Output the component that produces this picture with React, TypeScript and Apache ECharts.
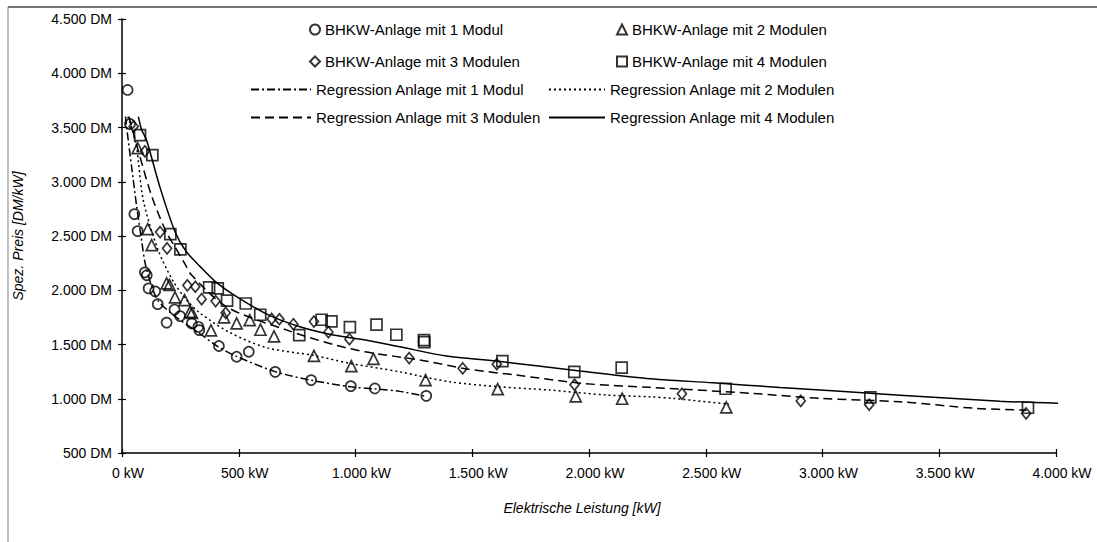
import React, { useEffect, useRef } from "react";
import * as echarts from "echarts";

// ---- data (kW, DM/kW) ----
const mod1: [number, number][] = [
  [24, 3846], [34, 3532], [53, 2702], [67, 2545], [98, 2165], [106, 2138], [114, 2017], [142, 1990],
  [153, 1872], [191, 1702], [225, 1822], [249, 1762], [299, 1694], [327, 1663], [331, 1633],
  [415, 1486], [491, 1387], [543, 1433], [656, 1248], [810, 1172], [980, 1116], [1083, 1095], [1303, 1027],
];
const mod2: [number, number][] = [
  [67, 3310], [110, 2564], [127, 2416], [191, 2063], [203, 2050], [227, 1934], [268, 1909],
  [291, 1801], [300, 1792], [381, 1630], [437, 1750], [491, 1694], [547, 1725], [593, 1636],
  [651, 1574], [822, 1395], [982, 1301], [1077, 1367], [1300, 1172], [1609, 1088], [1943, 1021],
  [2142, 1000], [2588, 920],
];
const mod3: [number, number][] = [
  [50, 3510], [98, 3280], [163, 2536], [193, 2386], [280, 2045], [314, 2032], [341, 1918],
  [401, 1900], [444, 1792], [641, 1736], [674, 1733], [734, 1687], [822, 1711], [884, 1614],
  [974, 1549], [1230, 1375], [1459, 1280], [1605, 1318], [1938, 1129], [2398, 1046], [2907, 980],
  [3200, 945], [3872, 865],
];
const mod4: [number, number][] = [
  [77, 3430], [130, 3246], [207, 2518], [250, 2377], [373, 2026], [410, 2017], [450, 1905],
  [530, 1878], [592, 1774], [759, 1587], [855, 1728], [897, 1713], [976, 1660], [1090, 1684],
  [1175, 1590], [1293, 1540], [1295, 1522], [1629, 1347], [1937, 1248], [2140, 1287], [2585, 1092],
  [3205, 1012], [3880, 917],
];

const reg1: [number, number][] = [
  [15, 3600], [20, 3500], [41, 3140], [63, 2770], [84, 2460], [100, 2240], [130, 2020], [156, 1900],
  [227, 1760], [327, 1610], [412, 1479], [491, 1390], [656, 1250], [808, 1172], [980, 1110],
  [1082, 1091], [1190, 1068], [1305, 1020],
];
const reg2: [number, number][] = [
  [25, 3600], [60, 3350], [91, 2832], [155, 2370], [220, 2080], [277, 1910], [334, 1790],
  [462, 1610], [620, 1470], [819, 1400], [976, 1326], [1105, 1280], [1190, 1248], [1405, 1156],
  [1619, 1110], [1833, 1080], [2076, 1034], [2261, 1018], [2361, 1003], [2600, 950],
];
const reg3: [number, number][] = [
  [30, 3600], [77, 3230], [130, 2850], [191, 2530], [227, 2400], [270, 2240], [298, 2140],
  [448, 1847], [705, 1633], [905, 1500], [1048, 1430], [1276, 1357], [1476, 1275], [1690, 1218],
  [1975, 1141], [2261, 1105], [2704, 1049], [2989, 1003], [3332, 972], [3660, 911], [3874, 895],
];
const reg4: [number, number][] = [
  [70, 3600], [84, 3480], [105, 3385], [162, 2954], [227, 2540], [274, 2360], [334, 2220],
  [400, 2080], [477, 1960], [620, 1780], [762, 1663], [905, 1587], [1048, 1540], [1190, 1479],
  [1390, 1393], [1605, 1347], [1961, 1255], [2247, 1187], [2532, 1147], [2818, 1104], [3332, 1033],
  [3760, 978], [4025, 957],
];

const seriesNames = [
  "BHKW-Anlage mit 1 Modul",
  "BHKW-Anlage mit 2 Modulen",
  "BHKW-Anlage mit 3 Modulen",
  "BHKW-Anlage mit 4 Modulen",
  "Regression Anlage mit 1 Modul",
  "Regression Anlage mit 2 Modulen",
  "Regression Anlage mit 3 Modulen",
  "Regression Anlage mit 4 Modulen",
];

const xTitle = "Elektrische Leistung [kW]";
const yTitle = "Spez. Preis [DM/kW]";

const FONT = "'Liberation Sans', Arial, sans-serif";

function de(v: number): string {
  if (v >= 1000) {
    const t = Math.floor(v / 1000);
    const r = String(v % 1000).padStart(3, "0");
    return `${t}.${r}`;
  }
  return String(v);
}

export default function App() {
  const ref = useRef<HTMLDivElement>(null);
  useEffect(() => {
    if (!ref.current) return;
    const chart = echarts.init(ref.current, undefined, { renderer: "svg" });

    const markerStyle = {
      color: "rgba(255,255,255,0)",
      borderColor: "#000",
      borderWidth: 1.7,
    };
    const scatter = (name: string, data: [number, number][], symbol: string, size: number | number[]) => ({
      type: "scatter",
      name,
      data,
      symbol,
      symbolSize: size,
      itemStyle: markerStyle,
      z: 5,
    });
    const line = (name: string, data: [number, number][], type: any, width = 1.5) => ({
      type: "line",
      name,
      data,
      smooth: 0.3,
      showSymbol: false,
      symbol: "none",
      clip: false,
      lineStyle: { color: "#000", width, type },
      itemStyle: { color: "#000" },
      z: 3,
    });

    const legendText = { color: "#000", fontSize: 15, fontFamily: FONT };
    const mkLegend = (name: string, left: number, top: number, w: number, h: number, isLine: boolean) => ({
      data: [name],
      left,
      top,
      itemWidth: w,
      itemHeight: h,
      selectedMode: false,
      textStyle: legendText,
      padding: 0,
      ...(isLine ? { itemStyle: { opacity: 0 } } : {}),
    });

    const axisLineStyle = { color: "#000", width: 1.5 };

    const option: any = {
      animation: false,
      backgroundColor: "#ffffff",
      grid: { left: 122, top: 19, right: 41, bottom: 89, containLabel: false },
      graphic: [
        { type: "line", shape: { x1: 8, y1: 7, x2: 1097, y2: 7 }, style: { stroke: "#444", lineWidth: 1.5 } },
        { type: "line", shape: { x1: 8, y1: 7, x2: 8, y2: 542 }, style: { stroke: "#999", lineWidth: 1.2 } },
      ],
      legend: [
        mkLegend(seriesNames[0], 309, 22, 10, 10, false),
        mkLegend(seriesNames[1], 616, 22, 10, 10, false),
        mkLegend(seriesNames[2], 309, 54, 10, 10, false),
        mkLegend(seriesNames[3], 616, 54, 10, 10, false),
        mkLegend(seriesNames[4], 250, 82, 60, 12, true),
        mkLegend(seriesNames[5], 548, 82, 56, 12, true),
        mkLegend(seriesNames[6], 250, 110, 60, 12, true),
        mkLegend(seriesNames[7], 548, 110, 56, 12, true),
      ],
      xAxis: [
        {
          type: "value",
          min: 0,
          max: 4000,
          interval: 500,
          name: xTitle,
          nameLocation: "middle",
          nameGap: 48,
          nameTextStyle: { fontStyle: "italic", fontSize: 14, color: "#000", fontFamily: FONT, padding: [0, 14, 0, 0] },
          axisLine: { show: true, lineStyle: axisLineStyle },
          axisTick: { show: true, length: 4, lineStyle: { color: "#000", width: 1.2 } },
          axisLabel: {
            formatter: (v: number) => `${de(v)} kW`,
            color: "#000",
            fontSize: 14,
            fontFamily: FONT,
            margin: 13,
            padding: [0, 0, 0, 12],
          },
          splitLine: { show: false },
        },
        {
          type: "value",
          min: 0,
          max: 4000,
          interval: 500,
          position: "bottom",
          axisLine: { show: false },
          axisTick: { show: true, inside: true, length: 4, lineStyle: { color: "#000", width: 1.2 } },
          axisLabel: { show: false },
          splitLine: { show: false },
        },
      ],
      yAxis: [
        {
          type: "value",
          min: 500,
          max: 4500,
          interval: 500,
          name: yTitle,
          nameLocation: "middle",
          nameGap: 97,
          nameTextStyle: { fontStyle: "italic", fontSize: 14, color: "#000", fontFamily: FONT },
          axisLine: { show: true, lineStyle: axisLineStyle },
          axisTick: { show: true, length: 4, lineStyle: { color: "#000", width: 1.2 } },
          axisLabel: {
            formatter: (v: number) => `${de(v)} DM`,
            color: "#000",
            fontSize: 14,
            fontFamily: FONT,
            margin: 10,
          },
          splitLine: { show: false },
        },
        {
          type: "value",
          min: 500,
          max: 4500,
          interval: 500,
          position: "left",
          axisLine: { show: false },
          axisTick: { show: true, inside: true, length: 4, lineStyle: { color: "#000", width: 1.2 } },
          axisLabel: { show: false },
          splitLine: { show: false },
        },
      ],
      series: [
        scatter(seriesNames[0], mod1, "circle", 10),
        scatter(seriesNames[1], mod2, "triangle", 11),
        scatter(seriesNames[2], mod3, "diamond", [9, 11]),
        scatter(seriesNames[3], mod4, "rect", 11),
        line(seriesNames[4], reg1, [8, 3, 2, 3]),
        line(seriesNames[5], reg2, [2, 3]),
        line(seriesNames[6], reg3, [9, 5]),
        line(seriesNames[7], reg4, "solid"),
      ],
    };
    chart.setOption(option);
    return () => chart.dispose();
  }, []);

  return (
    <div
      ref={ref}
      style={{ position: "fixed", left: 0, top: 0, width: 1097, height: 542, background: "#fff" }}
    />
  );
}
